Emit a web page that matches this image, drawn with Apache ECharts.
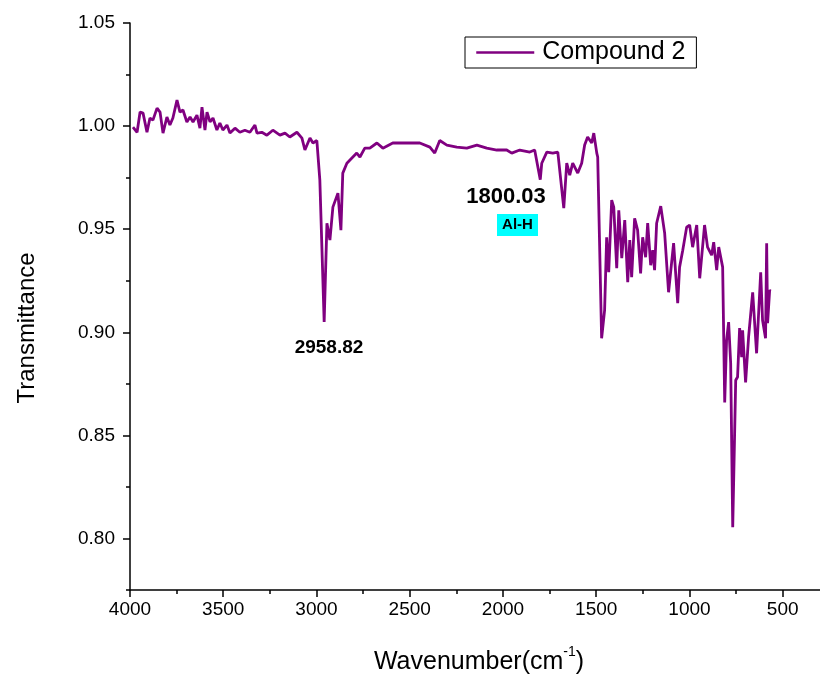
<!DOCTYPE html>
<html><head><meta charset="utf-8">
<script src="https://cdn.jsdelivr.net/npm/echarts@6/dist/echarts.min.js"></script>
<style>html,body{margin:0;padding:0;background:#fff}#c{width:820px;height:675px}</style>
</head><body><div id="c"></div>
<script>
const wavenumbers = [3984,3962,3946,3930,3909,3893,3877,3855,3839,3823,
3802,3786,3770,3748,3732,3716,3695,3678,3662,3641,
3625,3614,3598,3587,3571,3555,3534,3518,3502,3480,
3464,3437,3411,3384,3357,3330,3319,3293,3266,3234,
3196,3169,3143,3105,3078,3062,3035,3019,2998,2982,
2958.82,2944,2928,2912,2885,2869,2859,2837,2810,2784,
2767,2741,2714,2676,2644,2591,2516,2446,2392,2366,
2339,2301,2248,2194,2140,2087,2033,1980,1953,1910,
1856,1830,1800.03,1792,1765,1733,1706,1674,1658,1642,
1626,1599,1578,1562,1546,1524,1513,1497,1492,1471,
1455,1444,1433,1417,1406,1390,1379,1363,1347,1331,
1320,1310,1294,1278,1262,1251,1235,1224,1208,1197,
1187,1176,1154,1133,1112,1085,1063,1053,1036,1015,
999,983,961,945,919,903,881,870,854,843,
822,811,801,790,779,768,752,742,731,720,
715,699,683,661,640,618,608,592,586,581,
570,565];
const transmittance = [0.9995,0.997,1.0068,1.0063,0.997,1.0039,1.0029,1.0087,1.0068,0.9966,
1.0044,1.0005,1.0039,1.0126,1.0068,1.0078,1.002,1.0044,1.002,1.0053,
0.999,1.0092,0.9981,1.0068,1.002,1.0039,0.9981,1.0015,0.9981,1.0005,
0.9966,0.999,0.997,0.998,0.997,1.0005,0.9966,0.997,0.9956,0.998,
0.9956,0.9966,0.9947,0.997,0.9942,0.9884,0.9942,0.9918,0.993,0.9738,
0.905,0.9529,0.9447,0.9607,0.9675,0.9495,0.9772,0.982,0.9845,0.9869,
0.985,0.9893,0.9893,0.9918,0.9893,0.9918,0.9918,0.9918,0.9898,0.9869,
0.993,0.9908,0.9898,0.9893,0.9908,0.9893,0.9884,0.9884,0.9869,0.9884,
0.9874,0.9884,0.974,0.982,0.9874,0.9869,0.9874,0.9602,0.982,0.9762,
0.982,0.9772,0.982,0.9908,0.9947,0.9918,0.9966,0.9869,0.985,0.8971,
0.9107,0.9461,0.9291,0.9641,0.9607,0.9311,0.9592,0.9359,0.9544,0.9243,
0.9447,0.9267,0.9553,0.9495,0.9286,0.9461,0.9364,0.9529,0.9325,0.9398,
0.9301,0.9529,0.9612,0.9481,0.9194,0.9432,0.9141,0.9316,0.9398,0.951,
0.952,0.9413,0.952,0.9262,0.952,0.9413,0.9374,0.9437,0.9301,0.9413,
0.9316,0.866,0.8961,0.9049,0.885,0.8055,0.8767,0.8783,0.902,0.8879,
0.901,0.8757,0.8976,0.9194,0.8898,0.9291,0.9058,0.8971,0.9432,0.9044,
0.9204,0.920];
const xMajorTicks = [4000,3500,3000,2500,2000,1500,1000,500];
const xMinorTicks = [3750,3250,2750,2250,1750,1250,750];
const yMajorTicks = [0.80,0.85,0.90,0.95,1.00,1.05];
const yMinorTicks = [0.775,0.825,0.875,0.925,0.975,1.025];
const seriesName = 'Compound 2';

const FONT = '"Liberation Sans", Arial, sans-serif';
const chart = echarts.init(document.getElementById('c'), null, {renderer:'canvas'});
const data = wavenumbers.map((w,i)=>[w, transmittance[i]]);
const axisBase = {
  type:'value', splitLine:{show:false}
};
chart.setOption({
  animation:false,
  backgroundColor:'#fff',
  grid:{left:130, right:0, top:23, bottom:85, containLabel:false},
  xAxis:[
    Object.assign({}, axisBase, {
      min:300, max:4000, inverse:true, position:'bottom',
      axisLine:{show:true, onZero:false, lineStyle:{color:'#000', width:1.5}},
      axisTick:{show:true, inside:false, length:7, lineStyle:{color:'#000', width:1.5}, customValues:xMajorTicks},
      axisLabel:{show:true, margin:10, color:'#000', fontSize:19, fontFamily:FONT, customValues:xMajorTicks, formatter:v=>String(v)}
    }),
    Object.assign({}, axisBase, {
      min:300, max:4000, inverse:true, position:'bottom',
      axisLine:{show:false, onZero:false},
      axisTick:{show:true, inside:false, length:4, lineStyle:{color:'#000', width:1.5}, customValues:xMinorTicks},
      axisLabel:{show:false}
    })
  ],
  yAxis:[
    Object.assign({}, axisBase, {
      min:0.775, max:1.05, position:'left',
      axisLine:{show:true, onZero:false, lineStyle:{color:'#000', width:1.5}},
      axisTick:{show:true, inside:false, length:7, lineStyle:{color:'#000', width:1.5}, customValues:yMajorTicks},
      axisLabel:{show:true, margin:15, color:'#000', fontSize:19, fontFamily:FONT, customValues:yMajorTicks, formatter:v=>v.toFixed(2)}
    }),
    Object.assign({}, axisBase, {
      min:0.775, max:1.05, position:'left',
      axisLine:{show:false, onZero:false},
      axisTick:{show:true, inside:false, length:4, lineStyle:{color:'#000', width:1.5}, customValues:yMinorTicks},
      axisLabel:{show:false}
    })
  ],
  legend:{
    show:true, left:465, top:37, orient:'horizontal',
    data:[seriesName],
    borderColor:'#000', borderWidth:1, borderRadius:0,
    padding:[3,11,3,10], itemWidth:58, itemHeight:12, itemGap:0,
    itemStyle:{opacity:0},
    lineStyle:{color:'#800080', width:2.5, opacity:1},
    textStyle:{fontSize:25, color:'#000', fontFamily:FONT, padding:[0,0,0,3]}
  },
  series:[{
    name:seriesName, type:'line', data:data, xAxisIndex:0, yAxisIndex:0,
    showSymbol:false, symbol:'none', symbolSize:0, smooth:false,
    lineStyle:{color:'#800080', width:2.8}, itemStyle:{color:'#800080'}
  }],
  graphic:[
    {type:'text', rotation:Math.PI/2, x:27, y:328, style:{text:'Transmittance', font:'24px '+FONT, fill:'#000', textAlign:'center', textVerticalAlign:'middle'}},
    {type:'text', x:479, y:660, style:{
      text:'{a|Wavenumber(cm}{s|-1}{a|)}', textAlign:'center', textVerticalAlign:'middle',
      rich:{a:{fontSize:25, fontFamily:FONT, fill:'#000', color:'#000', lineHeight:30, verticalAlign:'bottom'},
            s:{fontSize:14, fontFamily:FONT, fill:'#000', color:'#000', lineHeight:30, verticalAlign:'top', padding:[0,0,12,0]}}
    }},
    {type:'text', x:329, y:348, style:{text:'2958.82', font:'bold 19px '+FONT, fill:'#000', textAlign:'center', textVerticalAlign:'middle'}},
    {type:'text', x:506, y:197, style:{text:'1800.03', font:'bold 22px '+FONT, fill:'#000', textAlign:'center', textVerticalAlign:'middle'}},
    {type:'rect', shape:{x:497, y:214, width:41, height:22}, style:{fill:'#00FFFF'}},
    {type:'text', x:517.5, y:225, style:{text:'Al-H', font:'bold 15px '+FONT, fill:'#000', textAlign:'center', textVerticalAlign:'middle'}}
  ]
});
</script>
</body></html>
